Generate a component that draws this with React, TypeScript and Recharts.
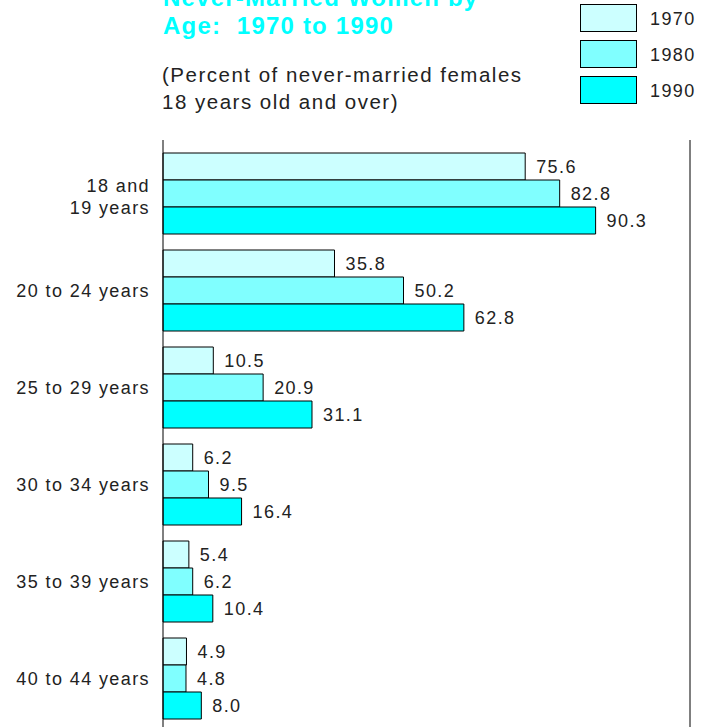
import React from "react";
import { BarChart, Bar, XAxis, YAxis, LabelList, ReferenceLine } from "recharts";

const categories = ["18 and\n19 years", "20 to 24 years", "25 to 29 years", "30 to 34 years", "35 to 39 years", "40 to 44 years"];
const v1970 = [75.6, 35.8, 10.5, 6.2, 5.4, 4.9];
const v1980 = [82.8, 50.2, 20.9, 9.5, 6.2, 4.8];
const v1990 = [90.3, 62.8, 31.1, 16.4, 10.4, 8.0];
const seriesNames = ["1970", "1980", "1990"];
const seriesColors = ["#CCFFFF", "#80FFFF", "#00FFFF"];
const titleLines = ["Never-Married Women by", "Age:  1970 to 1990"];
const subtitleLines = ["(Percent of never-married females", "18 years old and over)"];

const data = categories.map((c, i) => ({ cat: c, y1970: v1970[i], y1980: v1980[i], y1990: v1990[i] }));
const keys = ["y1970", "y1980", "y1990"];

const FONT = "'Liberation Sans', Arial, Helvetica, sans-serif";
const TXT = "#222";

const CatTick = (props: any) => {
  const { x, y, payload } = props;
  const lines = String(payload.value).split("\n");
  const lh = 22;
  const start = y - ((lines.length - 1) * lh) / 2 + (lines.length > 1 ? 2.5 : 0);
  return (
    <text x={x} y={start} textAnchor="end" fontSize={18} fill={TXT} fontFamily={FONT} letterSpacing={1.4}>
      {lines.map((l, i) => (
        <tspan key={i} x={x} y={start + i * lh + 6.5}>{l}</tspan>
      ))}
    </text>
  );
};

const LegendBlock = () => (
  <div style={{ position: "absolute", left: 580, top: 0, fontFamily: FONT }}>
    {seriesNames.map((n, i) => (
      <div key={n} style={{ display: "flex", alignItems: "center", height: 36 }}>
        <div style={{ width: 57, height: 28, background: seriesColors[i], border: "1px solid #000", boxSizing: "border-box" }} />
        <span style={{ marginLeft: 13, marginTop: 3, fontSize: 18, color: TXT, letterSpacing: 1.4 }}>{n}</span>
      </div>
    ))}
  </div>
);

export default function App() {
  return (
    <div style={{ position: "absolute", left: 0, top: 0, width: 709, height: 727, overflow: "hidden", background: "#fff" }}>
      <svg width={709} height={130} style={{ position: "absolute", left: 0, top: 0 }}>
        {titleLines.map((t, i) => (
          <text key={t} x={163} y={6 + i * 28} fontSize={24} fontWeight="bold" fill="#00FFFF" fontFamily={FONT} letterSpacing={1.2} style={{ whiteSpace: "pre" }}>{t}</text>
        ))}
        {subtitleLines.map((t, i) => (
          <text key={t} x={162} y={82 + i * 27} fontSize={20.5} fill={TXT} fontFamily={FONT} letterSpacing={1.5}>{t}</text>
        ))}
      </svg>
      <LegendBlock />
      <div style={{ position: "absolute", left: 0, top: 0 }}>
        <BarChart
          width={709}
          height={740}
          data={data}
          layout="vertical"
          margin={{ top: 140, right: 19, bottom: 13, left: 0 }}
          barCategoryGap={8}
          barGap={0}
        >
          <XAxis type="number" domain={[0, 110]} orientation="top" height={0} tick={false} tickLine={false} axisLine={{ stroke: "#000" }} />
          <YAxis
            type="category"
            dataKey="cat"
            width={163}
            padding={{ top: 5, bottom: 0 }}
            tick={<CatTick />}
            tickLine={false}
            tickMargin={7}
            axisLine={{ stroke: "#000" }}
          />
          <ReferenceLine x={110} stroke="#000" ifOverflow="visible" />
          {keys.map((k, i) => (
            <Bar key={k} dataKey={k} name={seriesNames[i]} fill={seriesColors[i]} stroke="#000" strokeWidth={1} isAnimationActive={false}>
              <LabelList
                dataKey={k}
                position="right"
                offset={11}
                formatter={(v: any) => Number(v).toFixed(1)}
                style={{ fontSize: 18, fill: TXT, fontFamily: FONT, letterSpacing: 1.4 }}
              />
            </Bar>
          ))}
        </BarChart>
      </div>
    </div>
  );
}
